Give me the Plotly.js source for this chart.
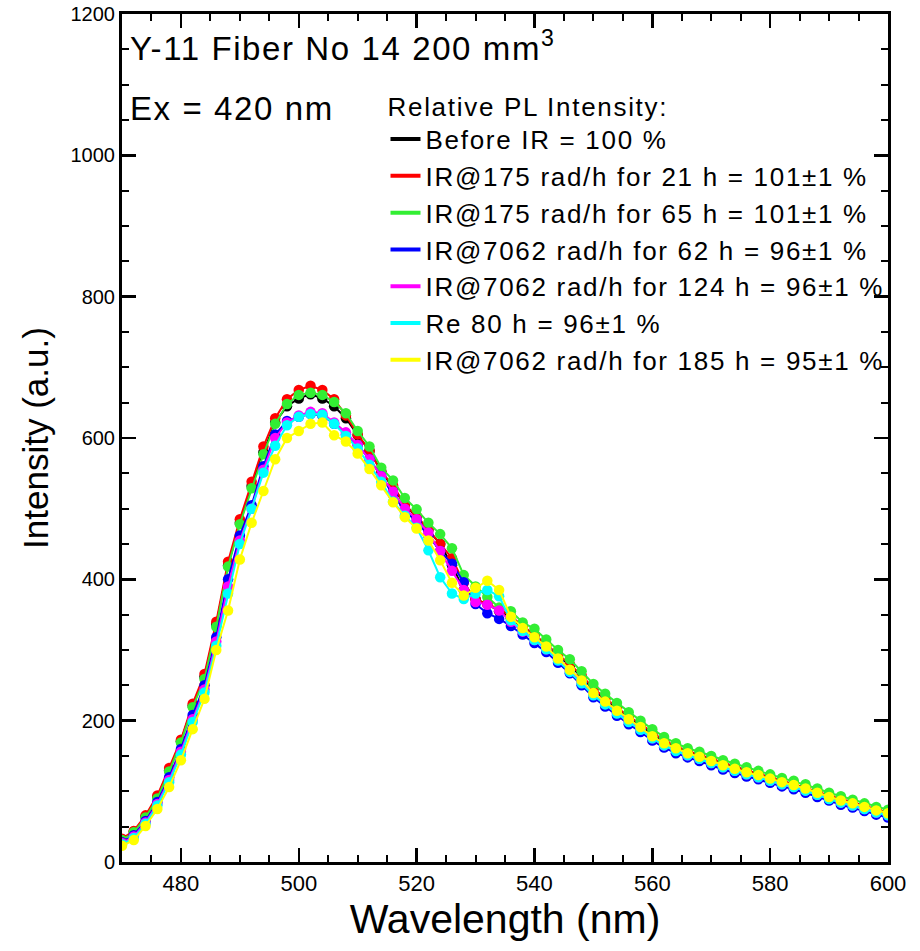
<!DOCTYPE html>
<html>
<head>
<meta charset="utf-8">
<script src="https://cdn.plot.ly/plotly-3.0.1.min.js"></script>
<style>
html,body{margin:0;padding:0;background:#fff;}
#chart{width:920px;height:951px;}
.legendtext, .legendtitletext {letter-spacing:1.7px;}
.annotation-text {letter-spacing:1.6px;}
</style>
</head>
<body>
<div id="chart"></div>
<script>
const wavelength = [470,472,474,476,478,480,482,484,486,488,490,492,494,496,498,500,502,504,506,508,510,512,514,516,518,520,522,524,526,528,530,532,534,536,538,540,542,544,546,548,550,552,554,556,558,560,562,564,566,568,570,572,574,576,578,580,582,584,586,588,590,592,594,596,598,600];

const beforeIR = [32,43,64,92,130,171,221,262,336,420,480,532,580,622,645,656,662,656,645,628,604,582,553,530,506,488,470,450,420,385,372,365,355,345,332,320,306,292,278,262,244,230,217,204,193,181,171,163,156,150,145,139,134,129,124,119,114,110,105,99,93,88,83,78,73,69];
const ir175_21h = [33,44,66,94,133,173,224,266,340,425,485,538,588,628,655,668,674,668,655,632,605,582,552,533,505,490,470,450,430,395,372,365,358,348,334,322,308,294,280,264,246,232,219,206,195,183,172,164,157,152,146,140,135,130,125,120,115,111,106,100,94,89,84,79,74,70];
const ir175_65h = [31,42,63,90,128,169,219,259,333,418,478,529,577,620,648,661,664,661,651,635,610,588,558,540,515,499,480,464,444,406,390,375,360,355,339,330,315,300,287,270,252,238,225,212,200,188,177,168,161,156,150,144,139,134,129,124,119,115,110,104,98,93,88,83,78,74];
const ir7062_62h = [28,38,58,85,120,160,208,250,318,400,462,505,560,605,624,630,634,632,620,605,590,570,546,520,497,482,462,440,422,396,365,352,344,334,322,310,297,282,267,250,233,220,207,195,184,172,162,154,148,143,137,131,126,121,117,112,107,103,98,92,87,81,77,72,67,63];
const ir7062_124h = [27,36,56,82,116,156,202,244,312,390,455,500,555,600,622,632,637,635,622,608,590,570,546,524,500,485,466,440,412,385,368,364,356,340,326,314,301,286,271,255,237,224,211,199,188,175,165,158,151,146,140,134,129,124,120,115,110,106,101,95,90,84,80,75,70,66];
const re80h = [25,34,54,80,113,152,198,240,306,380,450,500,551,589,618,630,634,633,620,603,585,562,538,510,490,473,441,403,380,372,380,385,376,342,327,314,301,285,269,253,236,223,210,198,187,175,165,157,151,146,140,134,129,124,120,115,110,106,101,95,89,84,80,75,70,66];
const ir7062_185h = [23,31,51,75,106,144,188,231,300,356,428,480,525,570,600,610,620,622,604,595,578,556,533,509,488,472,455,427,395,377,388,398,385,347,331,318,305,288,272,257,239,227,214,202,191,178,168,161,154,149,143,137,132,127,123,118,113,109,104,98,92,87,83,78,73,69];

const seriesNames = [
  "Before IR = 100 %",
  "IR@175 rad/h for 21 h = 101\u00b11 %",
  "IR@175 rad/h for 65 h = 101\u00b11 %",
  "IR@7062 rad/h for 62 h = 96\u00b11 %",
  "IR@7062 rad/h for 124 h = 96\u00b11 %",
  "Re 80 h = 96\u00b11 %",
  "IR@7062 rad/h for 185 h = 95\u00b11 %"
];
const seriesValues = [beforeIR, ir175_21h, ir175_65h, ir7062_62h, ir7062_124h, re80h, ir7062_185h];
const seriesColors = ["#000000", "#ff0000", "#33ee33", "#0000ff", "#ff00ff", "#00ffff", "#ffff00"];

const traces = [];
seriesValues.forEach((vals, i) => {
  traces.push({
    x: wavelength, y: vals, type: "scatter", mode: "lines+markers",
    line: {color: seriesColors[i], width: 2},
    marker: {color: seriesColors[i], size: 10.5, line: {width: 0}},
    showlegend: false, hoverinfo: "skip"
  });
});
seriesValues.forEach((vals, i) => {
  traces.push({
    x: [null], y: [null], type: "scatter", mode: "lines",
    name: seriesNames[i],
    line: {color: seriesColors[i], width: 4},
    showlegend: true
  });
});

const FONT = "Liberation Sans, Arial, sans-serif";
const axisCommon = {
  showline: true, linecolor: "#000", linewidth: 3, mirror: "allticks",
  ticks: "inside", tickcolor: "#000", tickwidth: 2.5, ticklen: 14,
  showgrid: false, zeroline: false
};

const layout = {
  width: 920, height: 951,
  margin: {l: 122, r: 32, t: 14, b: 89},
  paper_bgcolor: "#fff", plot_bgcolor: "#fff",
  font: {family: FONT, color: "#000"},
  xaxis: Object.assign({}, axisCommon, {
    range: [470, 600], dtick: 20, tick0: 480,
    minor: {dtick: 5, ticks: "inside", ticklen: 7, tickwidth: 2, tickcolor: "#000"},
    tickfont: {family: FONT, size: 22, color: "#000"},
    title: {text: "Wavelength (nm)", font: {family: FONT, size: 41, color: "#000"}, standoff: 8}
  }),
  yaxis: Object.assign({}, axisCommon, {
    range: [0, 1200], dtick: 200,
    minor: {dtick: 50, ticks: "inside", ticklen: 7, tickwidth: 2, tickcolor: "#000"},
    tickfont: {family: FONT, size: 20, color: "#000"},
    title: {text: "Intensity (a.u.)", font: {family: FONT, size: 35, color: "#000"}, standoff: 12}
  }),
  legend: {
    x: 0.344, y: 0.92, xanchor: "left", yanchor: "top",
    bgcolor: "rgba(0,0,0,0)", borderwidth: 0,
    font: {family: FONT, size: 26, color: "#000"},
    title: {text: "Relative PL Intensity:", side: "top", font: {family: FONT, size: 26, color: "#000"}},
    tracegroupgap: 0, itemwidth: 30
  },
  annotations: [
    {text: "Y-11 Fiber No 14 200 mm<sup>3</sup>", xref: "paper", yref: "paper", x: 0.008, y: 0.962, xanchor: "left", yanchor: "middle", showarrow: false, font: {family: FONT, size: 33, color: "#000"}},
    {text: "Ex = 420 nm", xref: "paper", yref: "paper", x: 0.008, y: 0.889, xanchor: "left", yanchor: "middle", showarrow: false, font: {family: FONT, size: 33, color: "#000"}}
  ]
};

Plotly.newPlot("chart", traces, layout, {displayModeBar: false, staticPlot: true});
</script>
</body>
</html>
